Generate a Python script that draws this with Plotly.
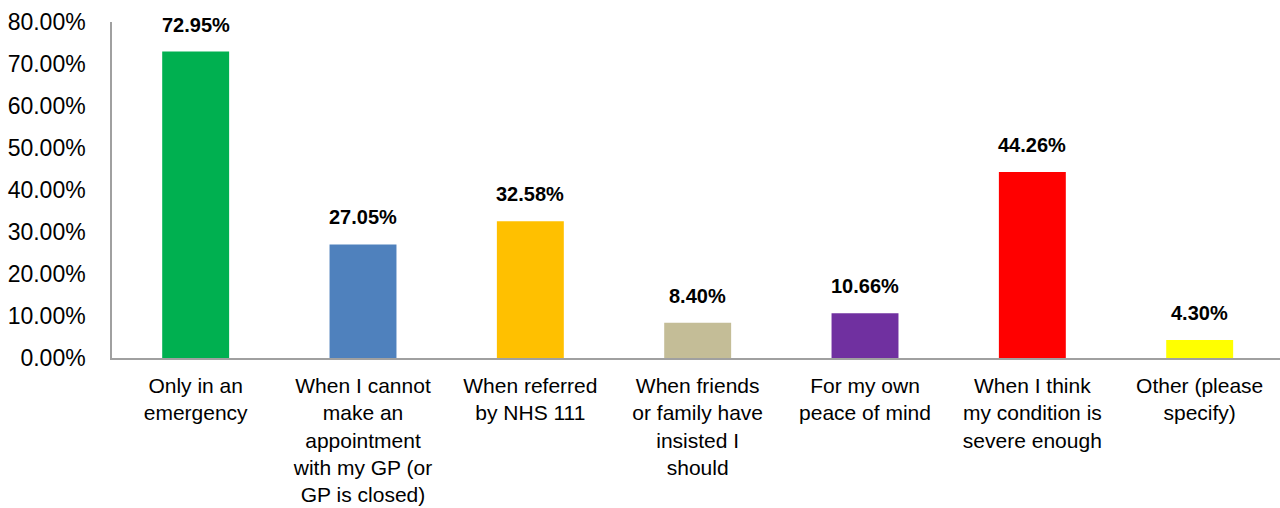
import plotly.graph_objects as go

categories = [
    "Only in an<br>emergency",
    "When I cannot<br>make an<br>appointment<br>with my GP (or<br>GP is closed)",
    "When referred<br>by NHS 111",
    "When friends<br>or family have<br>insisted I<br>should",
    "For my own<br>peace of mind",
    "When I think<br>my condition is<br>severe enough",
    "Other (please<br>specify)",
]
values = [72.95, 27.05, 32.58, 8.40, 10.66, 44.26, 4.30]
colors = ["#00B050", "#4F81BD", "#FFC000", "#C4BD97", "#7030A0", "#FF0000", "#FFFF00"]
y_ticks = [0, 10, 20, 30, 40, 50, 60, 70, 80]

FONT = "Liberation Sans, Arial, sans-serif"
x_pos = list(range(len(categories)))

fig = go.Figure(
    go.Bar(
        x=x_pos,
        y=values,
        marker=dict(color=colors, line=dict(width=0)),
        showlegend=False,
        hoverinfo="skip",
    )
)

# value labels above each bar
for xi, v in zip(x_pos, values):
    fig.add_annotation(
        x=xi, y=v, text=f"<b>{v:.2f}%</b>", showarrow=False,
        yanchor="bottom", yshift=14,
        font=dict(family=FONT, size=20, color="#000000"),
    )

fig.update_layout(
    width=1280, height=508,
    margin=dict(l=112, r=0, t=22, b=150, pad=0),
    paper_bgcolor="white", plot_bgcolor="white",
    bargap=0.6,
    font=dict(family=FONT, color="#000000"),
)
fig.update_xaxes(
    tickmode="array", tickvals=x_pos, ticktext=categories,
    range=[-0.5, 6.48],
    showline=True, linecolor="#A0A0A0", linewidth=1.5,
    ticks="", showgrid=False, zeroline=False,
    tickfont=dict(family=FONT, size=21, color="#000000"),
    ticklabelstandoff=8,
)
fig.update_yaxes(
    range=[0, 80], tickmode="array", tickvals=y_ticks,
    ticktext=[f"{t:.2f}%" for t in y_ticks],
    showline=True, linecolor="#A0A0A0", linewidth=1.5,
    ticks="", showgrid=False, zeroline=False,
    tickfont=dict(family=FONT, size=23, color="#000000"),
    ticklabelstandoff=20,
)

fig.write_html("out.html")
